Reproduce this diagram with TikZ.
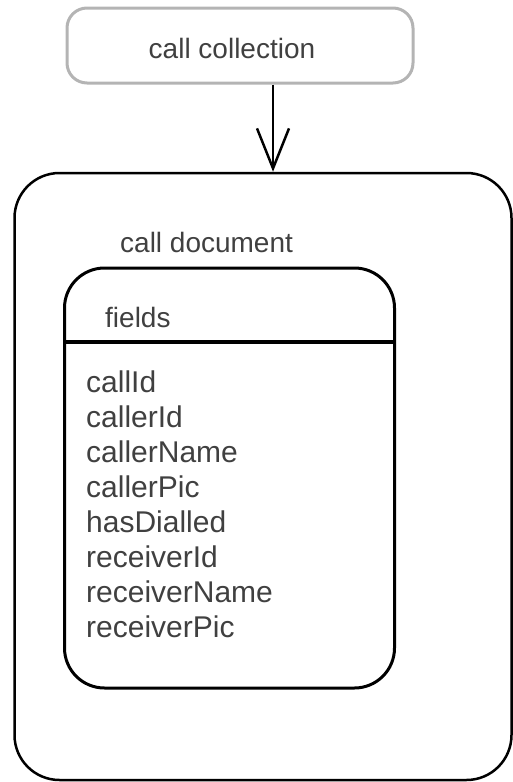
\documentclass[tikz,border=0pt]{standalone}
\usepackage{fontspec}
\setmainfont{Liberation Sans}
\usetikzlibrary{arrows.meta}
\definecolor{boxgray}{HTML}{B4B4B4}
\definecolor{textgray}{HTML}{404040}
\tikzset{
    every node/.style={inner sep=0pt, text=textgray,
    	font=\fontsize{28}{34}\selectfont}
}
\tikzset{
    box/.style={draw, rounded corners=#1, minimum width=0pt}
}
\tikzset{
    arrow/.style={line width=2.5pt, -{Straight Barb[length=40pt,width=32pt,line width=2.5pt]}}
}

\begin{document}
\begin{tikzpicture}[x=1pt, y=-1pt]
  \useasboundingbox (0,0) rectangle (513,782);
  \node (coll) [box=20pt, draw=boxgray, line width=3pt, minimum width=346pt, minimum height=75pt] at (240, 45.5) {};
  \node (doc) [box=45pt, line width=2.5pt, minimum width=497pt, minimum height=607pt] at (263, 476.5) {};
  \node (flds) [box=40pt, line width=3pt, minimum width=330pt, minimum height=420pt] at (229.5, 478) {};
  
  \node (collT) [anchor=base] at (232, 58) {call collection};
  \node (docT) [anchor=base west] at (120, 252) {call document};
  \node (fldsT) [anchor=base west] at (105, 327) {fields};
  
  \coordinate (split) at (0, 342);
  \draw [line width=3.5pt] (flds.west |- split) -- (flds.east |- split);
  
  \foreach \name [count=\i from 0] in {callId, callerId, callerName, callerPic, hasDialled, receiverId, receiverName, receiverPic}
    \node (f\i) [anchor=base west, font=\fontsize{30}{36}\selectfont] at (86, 392+35*\i) {\name};
  
  \coordinate (a0) at (273, 0);
  \draw [arrow] (coll.south -| a0) -- (doc.north -| a0);
\end{tikzpicture}
\end{document}
